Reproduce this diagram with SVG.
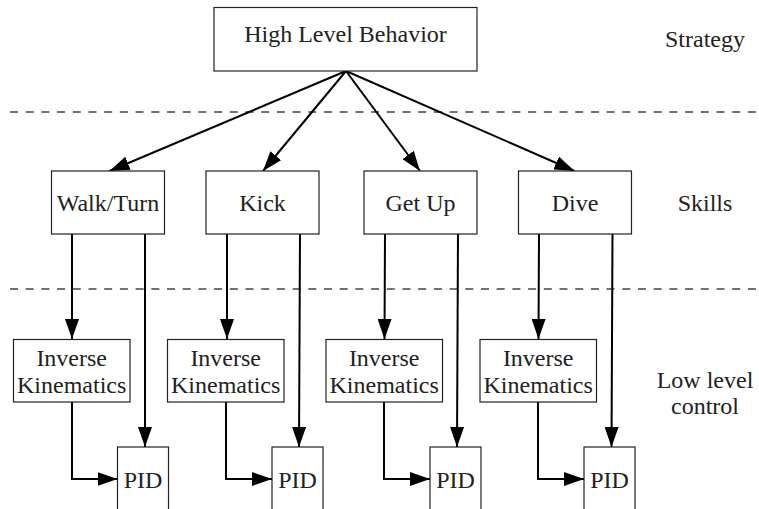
<svg xmlns="http://www.w3.org/2000/svg" width="759" height="509" viewBox="0 0 759 509" font-family="'Liberation Serif', 'Times New Roman', Times, serif">
<defs>
<style>
.box{fill:#fff;stroke:#222;stroke-width:1.2}
text{font-family:'Liberation Serif','Times New Roman',Times,serif;font-size:24px;fill:#222;text-anchor:middle}
.c{fill:none;stroke:#000;stroke-width:2}
.d{fill:none;stroke:#444;stroke-width:1.3;stroke-dasharray:8,7.7}
</style>
<marker id="ah" viewBox="0 0 20 14" refX="20" refY="7" markerWidth="20" markerHeight="14" markerUnits="userSpaceOnUse" orient="auto">
<path d="M0,0 L20,7 L0,14 Z" fill="#000"/>
</marker>
</defs>
<rect width="759" height="509" fill="#fff"/>
<g id="separators">
<line class="d" x1="10" y1="112" x2="759" y2="112"/>
<line class="d" x1="10" y1="289" x2="759" y2="289"/>
</g>
<g id="layer-labels">
<text x="705" y="47">Strategy</text>
<text x="705" y="211">Skills</text>
<text x="705" y="388">Low level</text>
<text x="705" y="414">control</text>
</g>
<g id="connectors">
<line class="c" x1="346" y1="71" x2="109.5" y2="171" marker-end="url(#ah)"/>
<line class="c" x1="346" y1="71" x2="263" y2="171" marker-end="url(#ah)"/>
<line class="c" x1="346" y1="71" x2="420" y2="171" marker-end="url(#ah)"/>
<line class="c" x1="346" y1="71" x2="574.5" y2="171" marker-end="url(#ah)"/>
<line class="c" x1="72" y1="234" x2="72" y2="339" marker-end="url(#ah)"/>
<line class="c" x1="145" y1="234" x2="145" y2="447" marker-end="url(#ah)"/>
<line class="c" x1="227" y1="234" x2="227" y2="339" marker-end="url(#ah)"/>
<line class="c" x1="300" y1="234" x2="299" y2="447" marker-end="url(#ah)"/>
<line class="c" x1="385" y1="234" x2="384.5" y2="339" marker-end="url(#ah)"/>
<line class="c" x1="458" y1="234" x2="457" y2="447" marker-end="url(#ah)"/>
<line class="c" x1="539" y1="234" x2="538.5" y2="339" marker-end="url(#ah)"/>
<line class="c" x1="612.5" y1="234" x2="611.5" y2="447" marker-end="url(#ah)"/>
<path class="c" d="M72,402 V479 H117.5" marker-end="url(#ah)"/>
<path class="c" d="M226,402 V479 H272" marker-end="url(#ah)"/>
<path class="c" d="M384,402 V479 H430" marker-end="url(#ah)"/>
<path class="c" d="M538,402 V479 H584" marker-end="url(#ah)"/>
</g>
<g id="high-level-behavior">
<rect class="box" x="214" y="7.5" width="263" height="63.5"/>
<text x="345.5" y="42">High Level Behavior</text>
</g>
<g id="walk-turn">
<rect class="box" x="51.5" y="171" width="113" height="63"/>
<text x="108" y="211">Walk/Turn</text>
</g>
<g id="kick">
<rect class="box" x="206" y="171" width="113" height="63"/>
<text x="262.5" y="211">Kick</text>
</g>
<g id="get-up">
<rect class="box" x="364" y="171" width="113" height="63"/>
<text x="420.5" y="211">Get Up</text>
</g>
<g id="dive">
<rect class="box" x="518.5" y="171" width="113" height="63"/>
<text x="575" y="211">Dive</text>
</g>
<g id="ik-1">
<rect class="box" x="13.5" y="339.5" width="116.5" height="62.5"/>
<text x="71.7" y="366">Inverse</text>
<text x="71.7" y="392.5">Kinematics</text>
</g>
<g id="ik-2">
<rect class="box" x="167.5" y="339.5" width="116.5" height="62.5"/>
<text x="225.7" y="366">Inverse</text>
<text x="225.7" y="392.5">Kinematics</text>
</g>
<g id="ik-3">
<rect class="box" x="326" y="339.5" width="116.5" height="62.5"/>
<text x="384.2" y="366">Inverse</text>
<text x="384.2" y="392.5">Kinematics</text>
</g>
<g id="ik-4">
<rect class="box" x="480" y="339.5" width="116.5" height="62.5"/>
<text x="538.2" y="366">Inverse</text>
<text x="538.2" y="392.5">Kinematics</text>
</g>
<g id="pid-1">
<rect class="box" x="117.5" y="447" width="51" height="70"/>
<text x="143" y="487.5">PID</text>
</g>
<g id="pid-2">
<rect class="box" x="272" y="447" width="51" height="70"/>
<text x="297.5" y="487.5">PID</text>
</g>
<g id="pid-3">
<rect class="box" x="430" y="447" width="51" height="70"/>
<text x="455.5" y="487.5">PID</text>
</g>
<g id="pid-4">
<rect class="box" x="584" y="447" width="51" height="70"/>
<text x="609.5" y="487.5">PID</text>
</g>
</svg>
